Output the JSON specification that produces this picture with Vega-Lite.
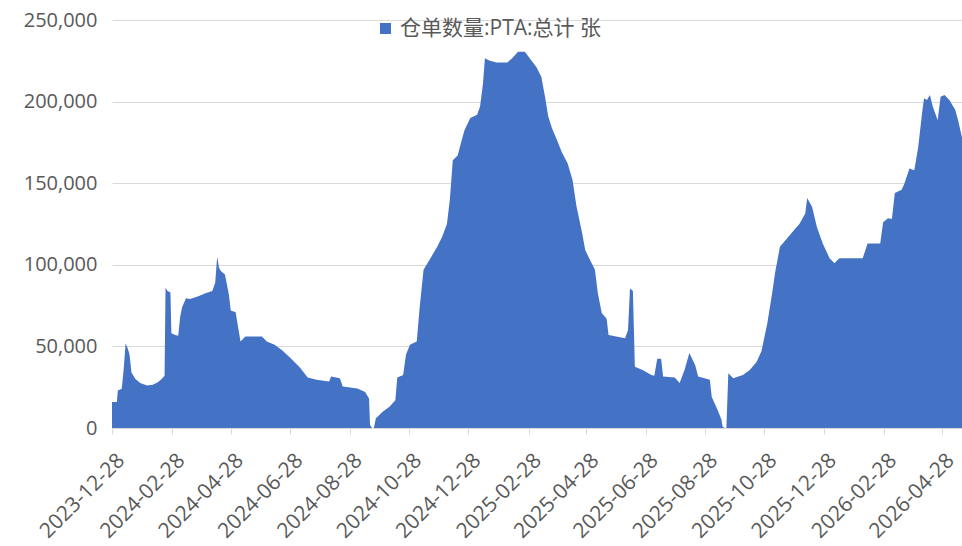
{
  "$schema": "https://vega.github.io/schema/vega-lite/v6.json",
  "width": 850,
  "height": 408,
  "autosize": {"type": "none"},
  "padding": {"left": 112, "top": 20, "right": 0, "bottom": 118},
  "background": "white",
  "config": {"view": {"stroke": null}},
  "data": {
    "values": [
      {"date": "2023-12-28", "value": 16000},
      {"date": "2024-01-02", "value": 16000},
      {"date": "2024-01-03", "value": 23000},
      {"date": "2024-01-07", "value": 24000},
      {"date": "2024-01-09", "value": 36000},
      {"date": "2024-01-11", "value": 52000},
      {"date": "2024-01-13", "value": 49000},
      {"date": "2024-01-15", "value": 45000},
      {"date": "2024-01-17", "value": 34000},
      {"date": "2024-01-21", "value": 30000},
      {"date": "2024-01-26", "value": 27500},
      {"date": "2024-02-02", "value": 26000},
      {"date": "2024-02-08", "value": 26500},
      {"date": "2024-02-13", "value": 28000},
      {"date": "2024-02-17", "value": 30000},
      {"date": "2024-02-20", "value": 32000},
      {"date": "2024-02-21", "value": 86000},
      {"date": "2024-02-23", "value": 84000},
      {"date": "2024-02-26", "value": 83000},
      {"date": "2024-02-27", "value": 58000},
      {"date": "2024-03-02", "value": 57000},
      {"date": "2024-03-05", "value": 56500},
      {"date": "2024-03-07", "value": 68000},
      {"date": "2024-03-09", "value": 74000},
      {"date": "2024-03-13", "value": 79500},
      {"date": "2024-03-17", "value": 79000},
      {"date": "2024-03-22", "value": 80000},
      {"date": "2024-03-27", "value": 81000},
      {"date": "2024-04-02", "value": 82500},
      {"date": "2024-04-09", "value": 84000},
      {"date": "2024-04-12", "value": 89000},
      {"date": "2024-04-14", "value": 105000},
      {"date": "2024-04-16", "value": 98000},
      {"date": "2024-04-18", "value": 96000},
      {"date": "2024-04-22", "value": 94000},
      {"date": "2024-04-26", "value": 82000},
      {"date": "2024-04-28", "value": 72000},
      {"date": "2024-05-03", "value": 71000},
      {"date": "2024-05-06", "value": 60000},
      {"date": "2024-05-08", "value": 53000},
      {"date": "2024-05-13", "value": 56000},
      {"date": "2024-05-30", "value": 56000},
      {"date": "2024-06-04", "value": 53000},
      {"date": "2024-06-12", "value": 51000},
      {"date": "2024-06-20", "value": 47500},
      {"date": "2024-06-28", "value": 43000},
      {"date": "2024-07-08", "value": 37000},
      {"date": "2024-07-16", "value": 31000},
      {"date": "2024-07-25", "value": 29500},
      {"date": "2024-08-07", "value": 28500},
      {"date": "2024-08-09", "value": 31500},
      {"date": "2024-08-18", "value": 30500},
      {"date": "2024-08-21", "value": 25500},
      {"date": "2024-09-05", "value": 24200},
      {"date": "2024-09-13", "value": 22000},
      {"date": "2024-09-17", "value": 18000},
      {"date": "2024-09-18", "value": 2000},
      {"date": "2024-09-20", "value": 0},
      {"date": "2024-09-22", "value": 0},
      {"date": "2024-09-24", "value": 6000},
      {"date": "2024-09-26", "value": 7000},
      {"date": "2024-10-01", "value": 10000},
      {"date": "2024-10-08", "value": 13000},
      {"date": "2024-10-14", "value": 17000},
      {"date": "2024-10-16", "value": 31000},
      {"date": "2024-10-22", "value": 32500},
      {"date": "2024-10-25", "value": 45000},
      {"date": "2024-10-29", "value": 51000},
      {"date": "2024-11-05", "value": 53000},
      {"date": "2024-11-08", "value": 74000},
      {"date": "2024-11-12", "value": 97000},
      {"date": "2024-11-18", "value": 103000},
      {"date": "2024-11-26", "value": 111000},
      {"date": "2024-12-01", "value": 117000},
      {"date": "2024-12-06", "value": 125000},
      {"date": "2024-12-09", "value": 140000},
      {"date": "2024-12-12", "value": 164000},
      {"date": "2024-12-17", "value": 167000},
      {"date": "2024-12-21", "value": 176000},
      {"date": "2024-12-24", "value": 182500},
      {"date": "2024-12-30", "value": 190000},
      {"date": "2025-01-06", "value": 192000},
      {"date": "2025-01-09", "value": 197000},
      {"date": "2025-01-12", "value": 211000},
      {"date": "2025-01-14", "value": 226500},
      {"date": "2025-01-19", "value": 225000},
      {"date": "2025-01-26", "value": 224000},
      {"date": "2025-02-06", "value": 224000},
      {"date": "2025-02-11", "value": 226500},
      {"date": "2025-02-17", "value": 230500},
      {"date": "2025-02-24", "value": 230500},
      {"date": "2025-03-01", "value": 226500},
      {"date": "2025-03-08", "value": 221000},
      {"date": "2025-03-13", "value": 215000},
      {"date": "2025-03-17", "value": 202000},
      {"date": "2025-03-20", "value": 191000},
      {"date": "2025-03-24", "value": 183500},
      {"date": "2025-03-29", "value": 176500},
      {"date": "2025-04-03", "value": 169000},
      {"date": "2025-04-09", "value": 162000},
      {"date": "2025-04-14", "value": 152000},
      {"date": "2025-04-18", "value": 136000},
      {"date": "2025-04-24", "value": 119000},
      {"date": "2025-04-27", "value": 109000},
      {"date": "2025-05-02", "value": 103000},
      {"date": "2025-05-07", "value": 97000},
      {"date": "2025-05-10", "value": 82500},
      {"date": "2025-05-14", "value": 70500},
      {"date": "2025-05-19", "value": 67000},
      {"date": "2025-05-21", "value": 57000},
      {"date": "2025-06-07", "value": 55000},
      {"date": "2025-06-10", "value": 60000},
      {"date": "2025-06-12", "value": 85500},
      {"date": "2025-06-15", "value": 84000},
      {"date": "2025-06-17", "value": 37500},
      {"date": "2025-06-25", "value": 35500},
      {"date": "2025-07-04", "value": 32500},
      {"date": "2025-07-07", "value": 32000},
      {"date": "2025-07-10", "value": 42500},
      {"date": "2025-07-14", "value": 42500},
      {"date": "2025-07-16", "value": 31500},
      {"date": "2025-07-28", "value": 31000},
      {"date": "2025-08-02", "value": 27500},
      {"date": "2025-08-07", "value": 35500},
      {"date": "2025-08-12", "value": 46000},
      {"date": "2025-08-18", "value": 38500},
      {"date": "2025-08-21", "value": 31500},
      {"date": "2025-09-02", "value": 29500},
      {"date": "2025-09-04", "value": 19000},
      {"date": "2025-09-10", "value": 11000},
      {"date": "2025-09-14", "value": 5000},
      {"date": "2025-09-15", "value": 1000},
      {"date": "2025-09-17", "value": 0},
      {"date": "2025-09-19", "value": 0},
      {"date": "2025-09-21", "value": 33500},
      {"date": "2025-09-26", "value": 30500},
      {"date": "2025-10-06", "value": 32500},
      {"date": "2025-10-13", "value": 35500},
      {"date": "2025-10-20", "value": 40500},
      {"date": "2025-10-25", "value": 47000},
      {"date": "2025-10-31", "value": 64000},
      {"date": "2025-11-05", "value": 82500},
      {"date": "2025-11-08", "value": 95000},
      {"date": "2025-11-13", "value": 111000},
      {"date": "2025-11-20", "value": 116000},
      {"date": "2025-11-25", "value": 119500},
      {"date": "2025-11-30", "value": 123000},
      {"date": "2025-12-03", "value": 125000},
      {"date": "2025-12-09", "value": 131500},
      {"date": "2025-12-11", "value": 141000},
      {"date": "2025-12-16", "value": 135500},
      {"date": "2025-12-21", "value": 123000},
      {"date": "2025-12-27", "value": 113000},
      {"date": "2026-01-03", "value": 104000},
      {"date": "2026-01-08", "value": 101000},
      {"date": "2026-01-13", "value": 104000},
      {"date": "2026-01-24", "value": 104000},
      {"date": "2026-02-06", "value": 104000},
      {"date": "2026-02-11", "value": 113000},
      {"date": "2026-02-24", "value": 113000},
      {"date": "2026-02-27", "value": 126000},
      {"date": "2026-03-04", "value": 128500},
      {"date": "2026-03-08", "value": 128000},
      {"date": "2026-03-11", "value": 144000},
      {"date": "2026-03-18", "value": 146000},
      {"date": "2026-03-21", "value": 150000},
      {"date": "2026-03-26", "value": 159000},
      {"date": "2026-03-31", "value": 158000},
      {"date": "2026-04-04", "value": 172000},
      {"date": "2026-04-08", "value": 193000},
      {"date": "2026-04-10", "value": 202000},
      {"date": "2026-04-13", "value": 201000},
      {"date": "2026-04-16", "value": 204000},
      {"date": "2026-04-19", "value": 197000},
      {"date": "2026-04-24", "value": 188500},
      {"date": "2026-04-27", "value": 203000},
      {"date": "2026-05-01", "value": 204000},
      {"date": "2026-05-06", "value": 201000},
      {"date": "2026-05-12", "value": 195000},
      {"date": "2026-05-15", "value": 188500},
      {"date": "2026-05-19", "value": 178000}
    ]
  },
  "mark": {"type": "area", "interpolate": "linear"},
  "encoding": {
    "x": {
      "field": "date",
      "type": "temporal",
      "scale": {
        "type": "utc",
        "domain": [
          {"year": 2023, "month": 12, "date": 28, "utc": true},
          {"year": 2026, "month": 5, "date": 19, "utc": true}
        ]
      },
      "axis": {
        "title": null,
        "values": [
          {"year": 2023, "month": 12, "date": 28, "utc": true},
          {"year": 2024, "month": 2, "date": 28, "utc": true},
          {"year": 2024, "month": 4, "date": 28, "utc": true},
          {"year": 2024, "month": 6, "date": 28, "utc": true},
          {"year": 2024, "month": 8, "date": 28, "utc": true},
          {"year": 2024, "month": 10, "date": 28, "utc": true},
          {"year": 2024, "month": 12, "date": 28, "utc": true},
          {"year": 2025, "month": 2, "date": 28, "utc": true},
          {"year": 2025, "month": 4, "date": 28, "utc": true},
          {"year": 2025, "month": 6, "date": 28, "utc": true},
          {"year": 2025, "month": 8, "date": 28, "utc": true},
          {"year": 2025, "month": 10, "date": 28, "utc": true},
          {"year": 2025, "month": 12, "date": 28, "utc": true},
          {"year": 2026, "month": 2, "date": 28, "utc": true},
          {"year": 2026, "month": 4, "date": 28, "utc": true}
        ],
        "format": "%Y-%m-%d",
        "labelAngle": -45,
        "labelAlign": "right",
        "labelBaseline": "middle",
        "labelFont": "Open Sans",
        "labelFontSize": 21,
        "labelColor": "#595959",
        "labelPadding": 23,
        "labelOffset": 9,
        "labelOverlap": false,
        "labelFlush": false,
        "grid": false,
        "domainColor": "#d9d9d9",
        "tickColor": "#d9d9d9",
        "tickSize": 6
      }
    },
    "y": {
      "field": "value",
      "type": "quantitative",
      "scale": {"domain": [0, 250000], "nice": false},
      "axis": {
        "title": null,
        "values": [0, 50000, 100000, 150000, 200000, 250000],
        "format": ",.0f",
        "domain": false,
        "ticks": false,
        "grid": true,
        "gridColor": "#d9d9d9",
        "labelFont": "Open Sans",
        "labelFontSize": 20,
        "labelColor": "#595959",
        "labelPadding": 15
      }
    },
    "color": {
      "datum": "仓单数量:PTA:总计 张",
      "type": "nominal",
      "scale": {"range": ["#4472C4"]},
      "legend": {
        "title": null,
        "orient": "none",
        "legendX": 263,
        "legendY": -2,
        "symbolType": "square",
        "symbolSize": 121,
        "symbolStrokeWidth": 0,
        "labelFont": "Open Sans, Noto Sans CJK SC",
        "labelFontSize": 21,
        "labelColor": "#595959",
        "labelLimit": 400
      }
    }
  }
}
